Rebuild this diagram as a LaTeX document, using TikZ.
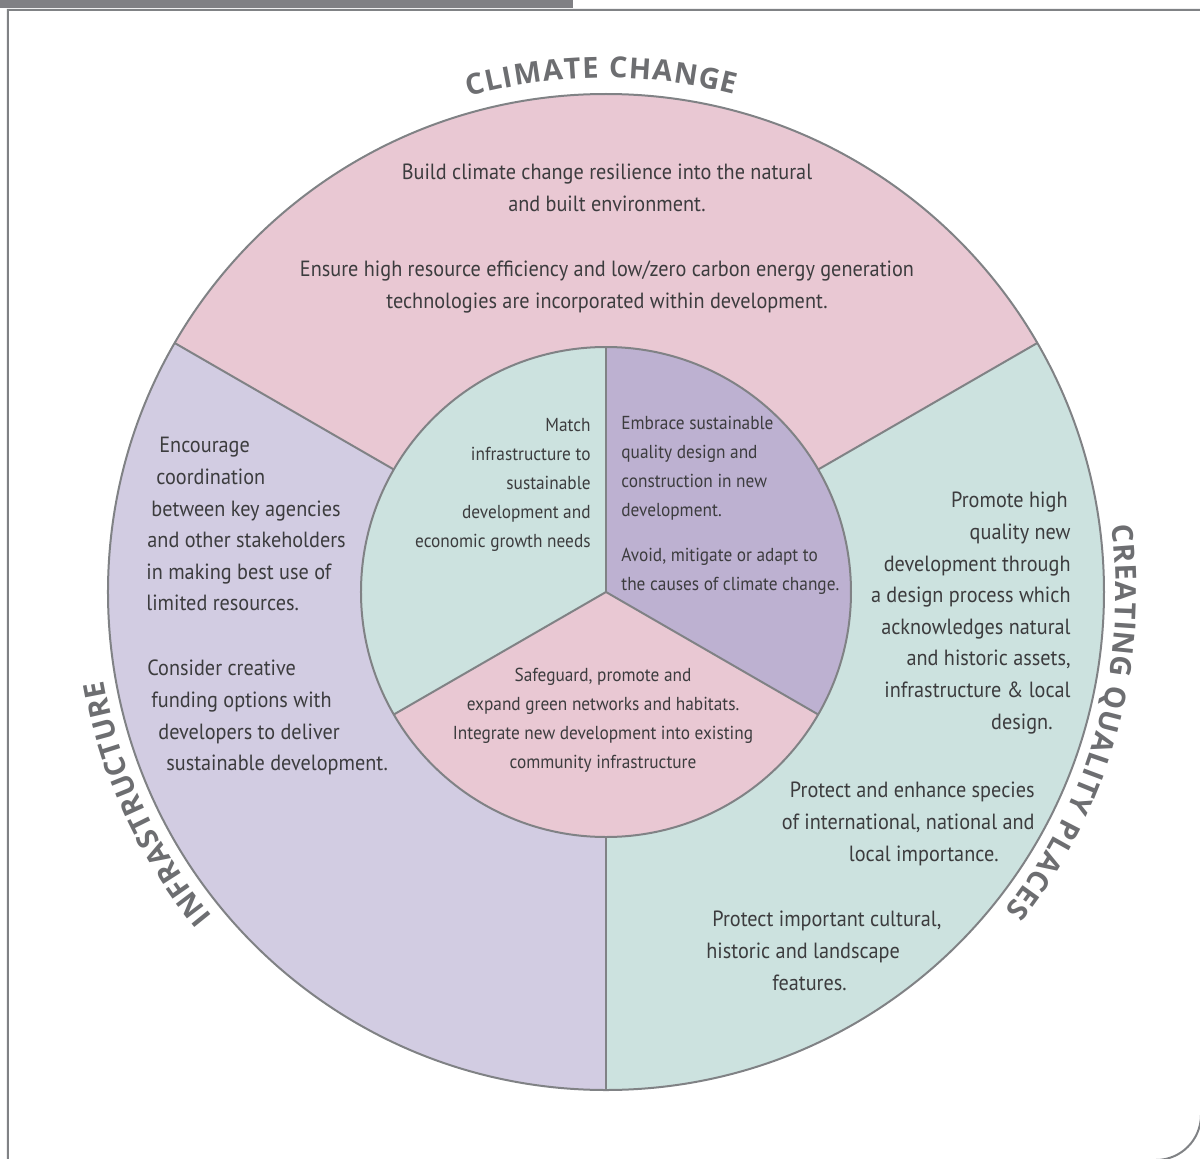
\documentclass[tikz,border=0pt]{standalone}
\usepackage{fontspec}
\setmainfont{PT Sans}[FakeStretch=0.92]
\newfontfamily\ringfont{Open Sans}
\usepackage{tikz}
\usetikzlibrary{decorations.text}
\usepackage{xcolor}

\definecolor{ccpink}{HTML}{E9C8D3}
\definecolor{infralilac}{HTML}{D2CCE2}
\definecolor{placeteal}{HTML}{CCE2DF}
\definecolor{designmauve}{HTML}{BDB1D1}
\definecolor{rimgray}{HTML}{808285}
\definecolor{bargray}{HTML}{808084}
\definecolor{inkgray}{HTML}{3C3C3E}
\definecolor{labelgray}{HTML}{6D6E71}

\newcommand{\ringlabel}{\ringfont\bfseries\fontsize{14.5pt}{14.5pt}\selectfont\color{labelgray}}

\begin{document}
\begin{tikzpicture}[
    x=0.5pt, y=0.5pt,
    rim/.style={draw=rimgray, line width=1pt},
    blurb/.style={inner sep=0pt, text=inkgray, font=\fontsize{11pt}{15.8pt}\selectfont},
    core/.style={inner sep=0pt, text=inkgray, font=\fontsize{9.4pt}{14.5pt}\selectfont},
    ringtext/.style={decorate, decoration={text along path, text align=fit to path, text={|\ringlabel|#1}}},
    ]
\useasboundingbox (-606,-566) rectangle (594,592);

% page frame
\fill[bargray] (-606,592) rectangle (-33,584);
\draw[rim] (-598,-568) -- (-598,582) -- (595,582) -- (595,-523) arc[start angle=0, end angle=-90, radius=45] -- cycle;

% outer ring
\foreach \a/\c in {30/ccpink, 150/infralilac, 270/placeteal}
    \fill[\c] (0,0) -- (\a:498) arc[start angle=\a, end angle=\a+120, radius=498] -- cycle;
\foreach \a in {30,150,270}
    \draw[rim] (\a:245) -- (\a:498);

% inner ring
\foreach \a/\c in {90/placeteal, 210/ccpink, 330/designmauve}
    \fill[\c] (0,0) -- (\a:245) arc[start angle=\a, end angle=\a+120, radius=245] -- cycle;
\foreach \a in {90,210,330}
    \draw[rim] (0,0) -- (\a:245);
\draw[rim] (0,0) circle[radius=245];
\draw[rim] (0,0) circle[radius=498];

% ring titles
\path[ringtext=CLIMATE CHANGE] (105.5:514) arc[start angle=105.5, end angle=75.5, radius=514];
\path[ringtext=INFRASTRUCTURE] (219.5:510) arc[start angle=219.5, end angle=190, radius=510];
\path[ringtext=CREATING QUALITY PLACES] (7.5:510) arc[start angle=7.5, end angle=-38.5, radius=510];

% outer ring texts
\node[blurb, anchor=north, align=center] (climate) at (1,428) {Build climate change resilience into the natural\\ and built environment.\\[16.7pt] Ensure high resource efficiency and low/zero carbon energy generation\\ technologies are incorporated within development.};

\node[blurb, anchor=north west, align=left] (infra) at (-460,155) {\hspace*{6.5pt}Encourage\\ \hspace*{5pt}coordination\\ \hspace*{2.5pt}between key agencies\\ \hspace*{0.5pt}and other stakeholders\\ in making best use of\\ limited resources.\\[16.7pt] \hspace*{0.5pt}Consider creative\\ \hspace*{2.5pt}funding options with\\ \hspace*{6pt}developers to deliver\\ \hspace*{10pt}sustainable development.};

\node[blurb, anchor=north east, align=right] (promote) at (465,100) {Promote high\hspace*{1.5pt}\\ quality new\\ development through\\ a design process which\hspace*{1pt}\\ acknowledges natural\hspace*{3.5pt}\\ and historic assets,\hspace*{3.5pt}\\ infrastructure \& local\hspace*{7pt}\\ design.\hspace*{9pt}};

\node[blurb, anchor=north east, align=right] (species) at (429,-190) {Protect and enhance species\\ of international, national and\hspace*{8.5pt}\\ local importance.\hspace*{18pt}};

\node[blurb, anchor=north west, align=left] (heritage) at (100,-319) {\hspace*{3pt}Protect important cultural,\\ historic and landscape\\ \hspace*{33pt}features.};

% inner ring texts
\node[core, anchor=north east, align=right] (match) at (-15,174) {Match\\ infrastructure to\\ sustainable\\ development and\\ economic growth needs};

\node[core, anchor=north west, align=left] (embrace) at (15,176) {Embrace sustainable\\ quality design and\\ construction in new\\ development.\\[8pt] Avoid, mitigate or adapt to\\ the causes of climate change.};

\node[core, anchor=north, align=center] (safeguard) at (-3,-76) {Safeguard, promote and\\ expand green networks and habitats.\\ Integrate new development into existing\\ community infrastructure};

\end{tikzpicture}
\end{document}
